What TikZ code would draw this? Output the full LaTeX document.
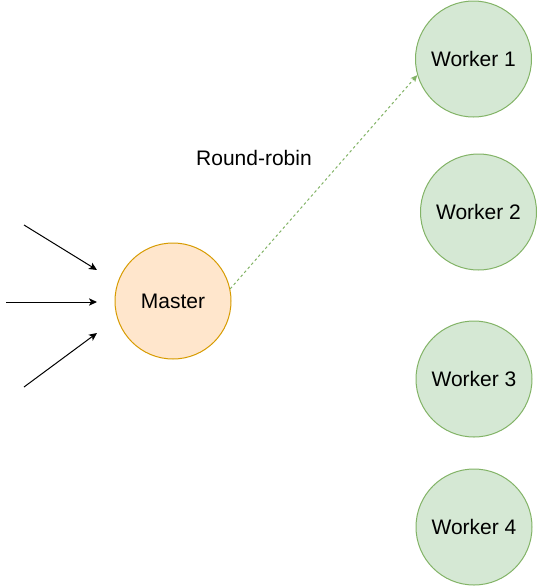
\documentclass[tikz,border=0pt]{standalone}
\usepackage{fontspec}
\setmainfont{Liberation Sans}
\usetikzlibrary{arrows.meta}
\definecolor{masterfill}{HTML}{FFE6CC}
\definecolor{masterline}{HTML}{D79B00}
\definecolor{workerfill}{HTML}{D5E8D4}
\definecolor{workerline}{HTML}{82B366}
\begin{document}
\begin{tikzpicture}[x=0.75pt,y=-0.75pt,font=\fontsize{15.75}{19}\selectfont,
  master/.style={circle, draw=masterline, fill=masterfill, line width=0.75pt, minimum size=87pt, inner sep=0pt},
  worker/.style={circle, draw=workerline, fill=workerfill, line width=0.75pt, minimum size=87pt, inner sep=0pt}]
\useasboundingbox (0,0) rectangle (538,586);
\node[master] (m) at (173,301) {Master};
\foreach \i/\x/\y in {1/473.5/59, 2/478.5/212, 3/474/379, 4/474/527}
\node[worker] (w\i) at (\x,\y) {Worker \i};
\node (rr) at (254,158) {Round-robin};
\draw[workerline, line width=0.75pt, dash pattern=on 2pt off 2pt, -{Stealth[length=5pt,width=4.5pt,inset=1.2pt]}] (m.12) -- (w1.196);
% incoming requests
\coordinate (s1) at (24,225);
\coordinate (e1) at (97,270);
\coordinate (s2) at (6,302);
\coordinate (e2) at (97,302);
\coordinate (s3) at (24,387);
\coordinate (e3) at (97,333);
\foreach \i in {1,2,3}
\draw[line width=0.75pt, -{Stealth[length=6pt,width=5.5pt,inset=1.5pt]}] (s\i) -- (e\i);
\end{tikzpicture}
\end{document}
